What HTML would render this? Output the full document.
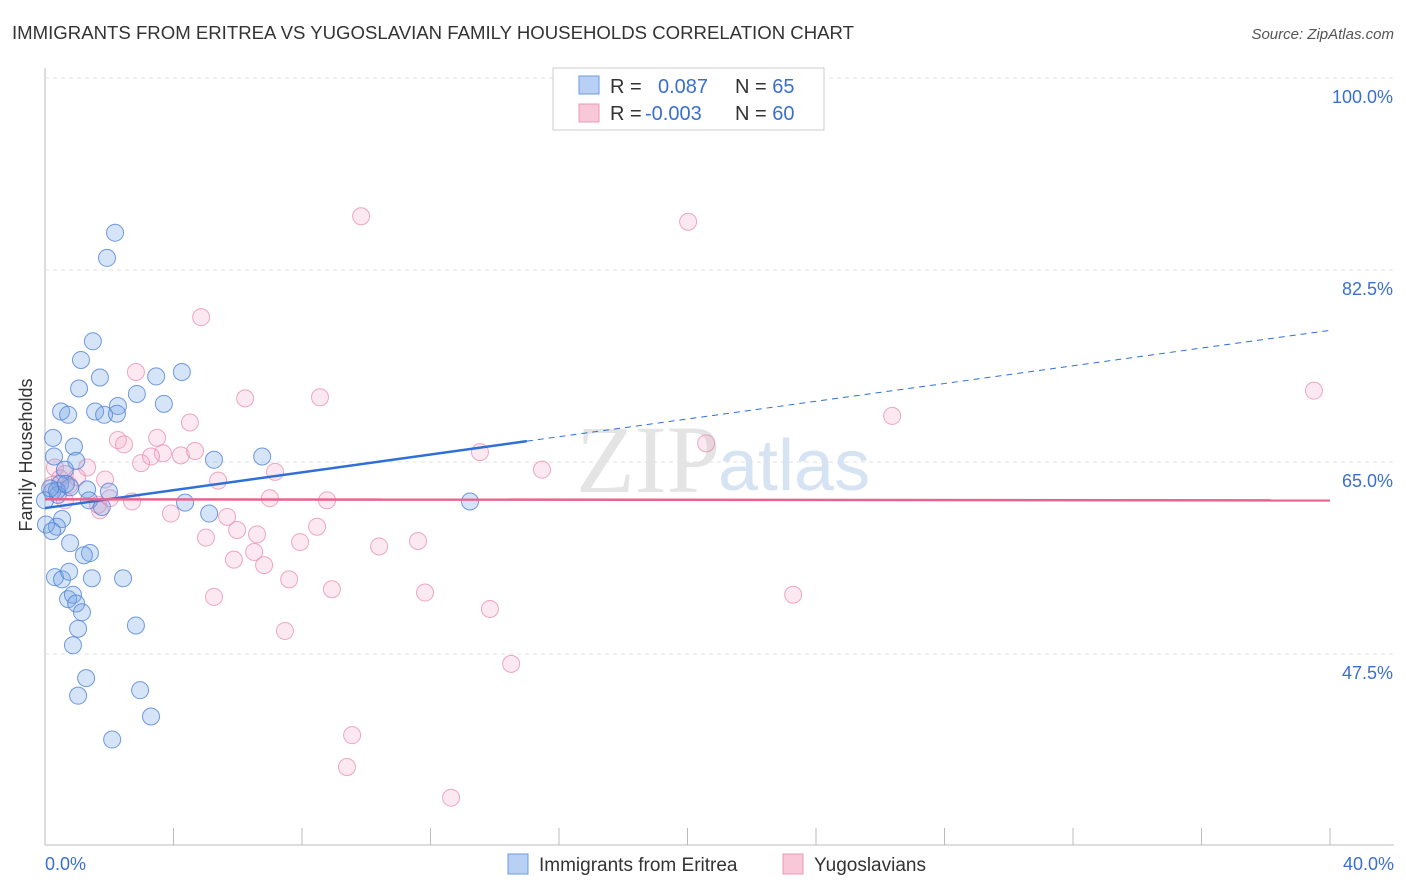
<!DOCTYPE html>
<html><head><meta charset="utf-8"><style>
body{margin:0;background:#fff;font-family:"Liberation Sans",sans-serif}
svg{display:block}
</style></head><body>
<svg id="chart" width="1406" height="892">
<text x="12" y="39" font-size="18" fill="#333" textLength="842" lengthAdjust="spacingAndGlyphs">IMMIGRANTS FROM ERITREA VS YUGOSLAVIAN FAMILY HOUSEHOLDS CORRELATION CHART</text>
<text x="1394" y="39" font-size="15" fill="#555" font-style="italic" text-anchor="end">Source: ZipAtlas.com</text>
<g id="grid"></g>
<text x="720" y="492" font-size="96" fill="#e4e4e4" font-family="Liberation Serif,serif" text-anchor="end">ZIP</text>
<text x="718" y="490" font-size="72" fill="#d6e3f3">atlas</text>
<g id="pts"></g>
<g id="lines"></g>
<text x="32" y="455" font-size="18" fill="#333" text-anchor="middle" transform="rotate(-90 32 455)">Family Households</text>
<text x="45" y="870" font-size="18" fill="#3a6fd0">0.0%</text>
<text x="1394" y="870" font-size="18" fill="#3a6fd0" text-anchor="end">40.0%</text>
<g>
<rect x="553" y="68" width="271" height="62" fill="#fff" stroke="#ccc"/>
<rect x="579" y="76" width="20" height="18" fill="#b7d0f3" stroke="#6d9be0"/>
<rect x="579" y="104" width="20" height="18" fill="#f8c8d8" stroke="#e89ab5"/>
<text x="610" y="93" font-size="20" fill="#333">R = <tspan fill="#3a6fd0" x="658">0.087</tspan><tspan x="735">N = </tspan><tspan fill="#3a6fd0">65</tspan></text>
<text x="610" y="120" font-size="20" fill="#333">R = <tspan fill="#3a6fd0" x="645">-0.003</tspan><tspan x="735">N = </tspan><tspan fill="#3a6fd0">60</tspan></text>
</g>
<g>
<rect x="508" y="854" width="20" height="20" fill="#b7d0f3" stroke="#6d9be0"/>
<text x="539" y="871" font-size="19" fill="#333">Immigrants from Eritrea</text>
<rect x="783" y="854" width="20" height="20" fill="#f8c8d8" stroke="#e89ab5"/>
<text x="814" y="871" font-size="19" fill="#333">Yugoslavians</text>
</g>
</svg>
<script>
const yTicks=[100,82.5,65,47.5];
const xTicks=[0,4,8,12,16,20,24,28,32,36,40];
const blueX=[2.18,1.93,1.49,1.12,1.71,1.06,2.86,3.46,4.26,3.70,0.50,0.72,1.56,1.84,2.27,2.24,0.25,0.90,0.28,0.97,0.62,0.47,0.22,0.40,0.78,1.31,1.37,1.99,1.77,4.36,5.26,6.76,5.11,0.53,0.37,0.03,0.22,0.78,1.40,1.21,0.31,0.53,1.46,2.43,0.75,0.72,0.87,0.97,1.15,2.83,1.03,0.87,1.28,2.96,1.03,3.30,2.09,13.23,0,0.37,0.65,0.16];
const blueY=[85.9,83.6,76.0,74.3,72.7,71.7,71.2,72.8,73.2,70.3,69.6,69.3,69.6,69.3,70.1,69.4,67.2,66.4,65.5,65.1,64.3,63.0,62.3,62.0,62.7,62.5,61.5,62.3,60.9,61.3,65.2,65.5,60.3,59.8,59.1,59.3,58.7,57.6,56.7,56.5,54.5,54.3,54.4,54.4,55.0,52.5,52.9,52.1,51.3,50.1,49.8,48.3,45.3,44.2,43.7,41.8,39.7,61.4,61.5,62.4,63.0,62.6];
const pinkX=[9.84,20.02,4.86,39.50,26.37,2.83,6.23,8.56,4.51,3.49,2.27,2.46,3.67,3.30,4.23,4.67,13.54,20.58,15.47,2.99,1.31,0.31,0.62,1.00,0.75,1.87,5.39,7.16,1.65,2.71,3.92,5.67,7.00,8.78,5.98,5.01,6.60,8.47,7.94,11.61,10.40,6.51,5.88,6.82,7.60,8.93,11.83,23.29,5.26,13.85,7.47,14.51,9.56,9.40,12.64,0.62,2.02,1.71,0.22,0.47];
const pinkY=[87.4,86.9,78.2,71.5,69.2,73.2,70.8,70.9,68.6,67.2,67.0,66.6,65.8,65.5,65.6,66.0,65.9,66.7,64.3,64.9,64.5,64.5,63.9,63.6,62.9,63.4,63.3,64.1,61.1,61.4,60.3,60.0,61.7,61.5,58.8,58.1,58.4,59.1,57.7,57.8,57.3,56.8,56.1,55.6,54.3,53.4,53.1,52.9,52.7,51.6,49.6,46.6,40.1,37.2,34.4,61.5,61.7,60.6,62.9,63.5];
const blueTrendX=[0,15,40];
const blueTrendY=[60.8,66.9,77.0];
const pinkTrendX=[0,40];
const pinkTrendY=[61.6,61.5];
const X=v=>45+v/40*1285;
const Y=v=>78+(100-v)*10.971;
const NS="http://www.w3.org/2000/svg";
function mk(t,a,p){const e=document.createElementNS(NS,t);for(const k in a)e.setAttribute(k,a[k]);p.appendChild(e);return e;}
const g=document.getElementById('grid');
mk('line',{x1:45,y1:68,x2:45,y2:845,stroke:'#bbb'},g);
mk('line',{x1:45,y1:845,x2:1394,y2:845,stroke:'#bbb'},g);
yTicks.forEach(t=>{const l=mk('line',{x1:45,x2:1394,y1:Y(t),y2:Y(t),stroke:'#e2e2e2','stroke-dasharray':'4 4'},g);


const tx=mk('text',{x:1393,y:Y(t)+25,'font-size':18,fill:'#3a6fd0','text-anchor':'end'},g);tx.textContent=t.toFixed(1)+'%';

});
xTicks.forEach(t=>{const l=mk('line',{x1:X(t),x2:X(t),y1:828,y2:845,stroke:'#bbb'},g);

});
const p=document.getElementById('pts');
pinkX.forEach((v,i)=>{const c=mk('circle',{cx:X(v),cy:Y(pinkY[i]),r:8.5,fill:'rgba(242,165,195,0.25)',stroke:'rgba(232,140,175,0.75)','stroke-width':1},p);

});
blueX.forEach((v,i)=>{const c=mk('circle',{cx:X(v),cy:Y(blueY[i]),r:8.5,fill:'rgba(120,165,230,0.3)',stroke:'rgba(80,130,215,0.8)','stroke-width':1},p);

});
const L=document.getElementById('lines');
let a=mk('line',{x1:X(blueTrendX[0]),y1:Y(blueTrendY[0]),x2:X(blueTrendX[1]),y2:Y(blueTrendY[1]),stroke:'#2e6fd8','stroke-width':2.5},L);


a=mk('line',{x1:X(blueTrendX[1]),y1:Y(blueTrendY[1]),x2:X(blueTrendX[2]),y2:Y(blueTrendY[2]),stroke:'#2e6fd8','stroke-width':1,'stroke-dasharray':'6 5'},L);


a=mk('line',{x1:X(pinkTrendX[0]),y1:Y(pinkTrendY[0]),x2:X(pinkTrendX[1]),y2:Y(pinkTrendY[1]),stroke:'#e8648e','stroke-width':2.5},L);


</script>
</body></html>
